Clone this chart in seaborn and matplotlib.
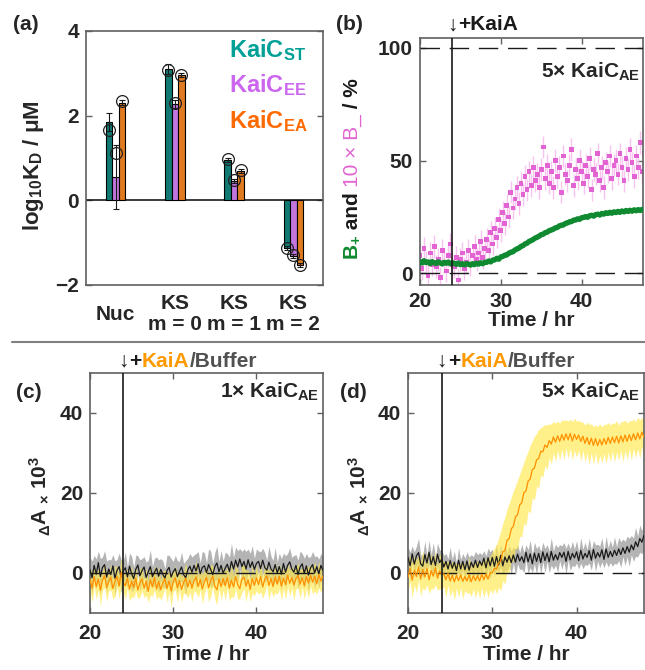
import numpy as np
import pandas as pd
import matplotlib
matplotlib.use("Agg")
import matplotlib.pyplot as plt
import matplotlib.transforms as mtransforms
from matplotlib.lines import Line2D
import seaborn as sns

# ---------------- data ----------------
# panel (a)
groups = ['Nuc', 'KS\nm = 0', 'KS\nm = 1', 'KS\nm = 2']
variants = ['ST', 'EE', 'EA']
bar_st = [1.85, 3.10, 0.95, -1.12]
bar_ee = [0.55, 2.28, 0.46, -1.32]
bar_ea = [2.31, 2.96, 0.70, -1.52]
err_st = [0.22, 0.12, 0.05, 0.05]
err_ee = [0.76, 0.10, 0.05, 0.05]
err_ea = [0.05, 0.05, 0.05, 0.05]
circ_st = [1.66, 3.08, 0.98, -1.13]
circ_ee = [1.12, 2.30, 0.49, -1.30]
circ_ea = [2.34, 2.97, 0.72, -1.52]

# time grid (hr), 0.25 hr sampling
time_hr = np.linspace(20, 48, 113)

# panel (b)  10 x B-  (pink) and B+ (green), %
pink_b = [8, 2, 11, 5, -1, 9, 4, 12, 3, 6, -2, 10, 5, 1, 8, 13, 4,
          3, 7, -3, 6, 9, 2, 5, 10, 4, 8, 12, 6, 9, 14, 7, 11,
          15, 10, 18, 13, 20, 16, 24, 19, 27, 22, 30, 25, 36, 29, 33, 38,
          31, 40, 35, 43, 37, 45, 39, 47, 41, 44, 38, 46, 56, 42, 48, 40,
          45, 38, 50, 43, 47, 36, 52, 44, 41, 48, 55, 39, 46, 42, 50, 45,
          40, 48, 43, 51, 37, 46, 44, 53, 41, 47, 38, 49, 45, 52, 42, 48,
          50, 44, 53, 47, 41, 51, 46, 55, 49, 43, 52, 47, 58, 45, 53, 50]
pink_err = 5.0
green_b = [5.2, 4.6, 5.5, 4.8, 5.0, 4.3, 5.1, 4.7, 4.4, 5.0, 4.6, 4.2, 4.8, 4.5, 4.9, 4.3, 4.6,
           4.4, 4.0, 4.5, 3.9, 4.2, 3.8, 4.3, 4.0, 3.7, 4.2, 3.9, 4.4, 4.1, 4.6, 4.3, 4.8,
           4.9, 5.4, 5.1, 5.8, 6.0, 6.6, 6.3, 7.2, 7.5, 8.0, 8.2, 8.9, 9.3, 9.6, 10.3, 10.8,
           11.2, 11.9, 12.3, 13.0, 13.4, 14.1, 14.5, 15.0, 15.6, 16.0, 16.5, 17.1, 17.4, 18.0, 18.3, 18.9,
           19.2, 19.6, 20.1, 20.4, 21.0, 21.3, 21.5, 22.1, 22.4, 22.8, 23.0, 23.5, 23.7, 24.1, 24.0, 24.6,
           24.8, 25.1, 24.9, 25.5, 25.7, 25.4, 26.0, 26.2, 25.9, 26.5, 26.3, 26.8, 26.6, 27.0, 26.7, 27.2,
           27.0, 27.4, 27.1, 27.6, 27.3, 27.8, 27.5, 27.9, 27.6, 28.1, 27.8, 28.2, 27.9, 28.3, 28.0, 28.4]

# panel (c)  1x KaiC_AE, dA x 10^3
buf_c = [0.8, -1.2, 1.9, -0.3, 2.6, -0.9, 1.4, 2.1, -1.0, 1.0, -0.4, 1.8, -1.3, 0.7, 1.6, -0.8, 0.5,
         1.3, -1.0, 1.7, -0.2, -1.4, 0.9, 2.0, -0.7, 0.6, 1.5, -1.1, 0.3, 1.6, -0.9, 0.2, 1.2,
         -0.8, 0.9, -0.3, -1.3, 0.6, 1.4, -1.0, 0.3, 1.1, -0.9, 0.4, 1.5, -0.4, -1.2, 0.8, 1.7,
         0.2, 1.9, 0.5, 2.3, -0.2, 1.4, 1.8, 0.1, 2.1, 0.9, -0.4, 1.6, 2.5, 0.3, 1.9, 0.0,
         1.2, 2.2, 0.4, 2.9, 1.0, 3.2, 1.5, 3.5, 1.6, 2.9, 1.0, 3.3, 1.4, 2.8, 0.9, 2.4,
         2.9, 1.1, 3.2, 1.4, 0.7, 2.7, 1.0, 0.3, 2.1, 0.0, 1.6, -0.3, 2.4, 0.2, 1.9, 2.8,
         1.0, 0.2, 1.9, -0.4, 1.5, 2.3, -0.1, 1.8, -0.5, 1.3, 2.1, 0.0, 1.6, -0.2, 1.9, 0.6]
kaia_c = [-1.6, -3.8, -0.9, -3.4, -1.5, -4.3, -1.8, -0.7, -3.6, -2.2, -1.0, -3.9, -2.0, -0.9, -3.3, 0.2, -2.4,
          -3.2, -1.3, -4.1, -2.0, -3.6, -1.3, -4.3, -2.4, -1.5, -3.8, -2.1, -4.6, -1.7, -3.5, -1.1, -4.0,
          -2.1, -4.2, -2.5, -1.4, -3.9, -2.0, -4.5, -2.2, -1.2, -3.7, -1.9, -4.1, -2.4, -1.3, -3.5, -1.8,
          -3.8, -2.0, -1.0, -3.4, -1.6, -4.0, -2.2, -1.1, -3.7, -1.9, -0.8, -3.3, -4.2, -1.5, -3.4, -1.4,
          -3.2, -1.1, -3.8, -1.8, -3.5, -0.9, -2.9, -3.9, -1.5, -1.0, -3.3, -1.7, -4.1, -1.4, -3.1, -1.2,
          -2.9, -0.9, -3.5, -1.6, -0.7, -3.1, -1.4, -3.4, -1.0, -2.8, -0.8, -3.3, -1.3, -2.9, -0.5, -2.6,
          -1.1, -3.0, -1.4, -0.6, -2.8, -1.1, -3.2, -0.9, -2.5, -0.6, -2.3, -0.8, -2.7, -0.4, -2.0, -0.7]
buf_c_sd = [3.1, 4.2, 2.5, 3.8, 2.9, 4.5, 2.6, 3.5, 4.0, 2.4, 3.7, 2.8, 4.3, 2.7, 3.4, 4.1, 2.6,
            3.9, 2.5, 3.3, 4.4, 2.8, 3.6, 2.3, 4.0, 3.0, 2.6, 3.8, 2.9, 4.2, 2.5, 3.5, 2.8,
            4.1, 2.7, 3.4, 2.4, 3.9, 3.0, 4.6, 2.6, 3.3, 4.0, 2.5, 3.7, 2.8, 4.3, 2.9, 3.2,
            3.8, 2.6, 4.4, 3.0, 2.7, 4.1, 3.2, 2.5, 3.9, 4.6, 2.8, 3.5, 4.2, 2.6, 3.7, 3.0,
            4.0, 2.7, 3.6, 4.5, 2.9, 3.3, 4.1, 2.6, 3.8, 3.1, 4.4, 2.7, 3.5, 4.0, 2.8, 3.6,
            2.6, 4.2, 3.0, 3.7, 2.5, 4.0, 3.2, 2.8, 4.3, 2.7, 3.4, 3.9, 2.6, 4.1, 3.0, 3.5,
            2.9, 4.2, 2.7, 3.6, 4.0, 2.6, 3.8, 3.1, 4.4, 2.8, 3.3, 4.1, 2.7, 3.7, 3.0, 3.4]
kaia_c_sd = [2.8, 3.6, 2.3, 3.2, 2.7, 3.9, 2.4, 3.0, 3.5, 2.2, 3.3, 2.6, 3.8, 2.5, 3.1, 3.6, 2.4,
             3.4, 2.3, 2.9, 3.9, 2.6, 3.2, 2.1, 3.6, 2.8, 2.4, 3.4, 2.7, 3.8, 2.3, 3.1, 2.6,
             3.7, 2.5, 3.0, 2.2, 3.5, 2.8, 4.1, 2.4, 3.0, 3.6, 2.3, 3.3, 2.6, 3.9, 2.7, 2.9,
             3.4, 2.4, 3.9, 2.8, 2.5, 3.7, 2.9, 2.3, 3.5, 4.0, 2.6, 3.1, 3.8, 2.4, 3.3, 2.8,
             3.6, 2.5, 3.2, 4.0, 2.7, 3.0, 3.7, 2.4, 3.4, 2.9, 3.9, 2.5, 3.1, 3.6, 2.6, 3.2,
             2.4, 3.8, 2.8, 3.3, 2.3, 3.6, 2.9, 2.6, 3.9, 2.5, 3.1, 3.5, 2.4, 3.7, 2.8, 3.2,
             2.7, 3.8, 2.5, 3.2, 3.6, 2.4, 3.4, 2.9, 3.9, 2.6, 3.0, 3.7, 2.5, 3.3, 2.8, 3.1]

# panel (d)  5x KaiC_AE, dA x 10^3
buf_d = [3.9, 1.8, 4.8, 2.2, 4.3, 5.1, 2.3, 1.7, 4.6, 2.5, 5.2, 2.1, 4.1, 1.9, 4.7, 2.6, 3.4,
         1.5, 2.9, 1.0, 3.1, 1.2, 2.7, 0.6, 3.2, 1.0, 2.9, 0.8, 3.0, 0.7, 2.7, 1.4, 3.2,
         1.4, 3.0, 1.9, 3.7, 1.3, 3.8, 1.8, 3.9, 1.7, 4.1, 2.0, 4.4, 1.8, 4.0, 2.7, 4.3,
         2.6, 4.5, 2.7, 4.7, 3.0, 4.1, 2.6, 5.2, 2.8, 4.8, 2.3, 5.0, 2.9, 4.9, 2.6, 5.3,
         3.1, 5.0, 2.8, 5.4, 3.2, 4.6, 3.3, 5.1, 3.9, 5.2, 2.9, 5.4, 3.3, 4.9, 3.8, 5.3,
         3.1, 5.7, 3.5, 4.9, 3.9, 5.6, 3.2, 5.9, 3.7, 5.1, 4.0, 5.8, 3.4, 6.0, 3.9, 5.4,
         4.1, 5.7, 4.4, 6.0, 4.6, 6.3, 4.9, 6.6, 5.2, 7.0, 5.8, 7.8, 6.6, 8.6, 7.7, 9.4]
kaia_d = [-1.1, 1.2, -1.8, 0.7, -0.9, 1.5, -1.5, 0.9, -1.0, 1.1, -1.7, 0.6, -0.8, 1.3, -1.3, 0.5, -0.4,
          -0.2, -1.7, 0.0, -2.0, -0.6, -2.2, -0.6, -1.9, -0.5, -2.1, -0.9, -2.0, -0.4, -2.2, -0.7, -1.9,
          -0.6, -2.0, -0.3, -1.7, -0.2, -1.5, 0.1, 0.0, 1.2, 1.0, 2.6, 3.0, 5.3, 5.6, 8.2, 8.6,
          11.0, 11.7, 14.0, 14.6, 17.0, 17.6, 20.1, 20.5, 23.0, 23.5, 25.9, 26.2, 28.3, 28.6, 30.4, 30.3,
          32.0, 31.4, 33.1, 32.2, 34.0, 32.7, 34.3, 32.9, 34.6, 33.2, 34.8, 33.3, 34.9, 33.0, 34.7, 33.4,
          34.5, 32.9, 34.2, 32.4, 33.9, 32.1, 33.7, 31.9, 33.6, 31.8, 33.4, 32.0, 33.6, 32.2, 33.9, 32.4,
          34.0, 32.6, 34.2, 32.5, 34.3, 32.8, 34.5, 32.9, 34.6, 33.1, 34.8, 33.3, 35.0, 33.5, 35.2, 33.9]
kaia_d_sd = [3.8, 3.2, 4.4, 3.5, 4.1, 3.1, 4.3, 4.6, 3.3, 4.0, 3.4, 4.5, 3.2, 4.2, 3.0, 4.4, 3.6,
             3.2, 4.3, 3.0, 4.1, 3.5, 4.6, 3.1, 4.2, 3.0, 4.4, 3.4, 3.1, 4.5, 3.7, 3.2, 4.3,
             3.6, 4.4, 3.3, 4.6, 3.8, 4.7, 4.2, 5.2, 5.0, 6.2, 6.1, 7.5, 7.2, 8.4, 7.8, 8.8,
             7.9, 8.9, 7.8, 8.7, 7.7, 8.6, 7.6, 8.7, 7.4, 8.5, 7.1, 8.0, 6.6, 7.3, 5.9, 6.4,
             5.1, 5.6, 4.2, 5.0, 3.9, 4.8, 3.6, 4.6, 3.7, 4.9, 3.5, 4.7, 3.6, 4.8, 4.0, 4.5,
             3.7, 4.9, 3.5, 4.6, 3.8, 5.0, 3.6, 4.7, 3.4, 4.8, 3.9, 4.5, 3.6, 4.9, 3.7, 4.6,
             3.5, 4.8, 3.9, 4.4, 3.6, 5.0, 3.8, 4.6, 3.5, 4.9, 3.7, 4.5, 3.9, 4.8, 3.6, 4.7]
buf_d_sd = [2.6, 3.4, 2.0, 3.1, 2.4, 3.6, 2.2, 2.9, 3.3, 1.9, 3.0, 2.5, 3.5, 2.1, 2.8, 3.2, 2.3,
            2.9, 2.0, 2.6, 3.4, 2.2, 2.8, 1.8, 3.1, 2.4, 2.0, 2.9, 2.3, 3.3, 1.9, 2.7, 2.2,
            3.2, 2.1, 2.7, 1.9, 3.0, 2.4, 3.5, 2.0, 2.6, 3.1, 1.9, 2.8, 2.2, 3.3, 2.3, 2.5,
            2.9, 2.0, 3.3, 2.4, 2.1, 3.1, 2.5, 1.9, 3.0, 3.4, 2.2, 2.7, 3.2, 2.0, 2.8, 2.4,
            3.0, 2.1, 2.7, 3.4, 2.3, 2.6, 3.1, 2.0, 2.9, 2.4, 3.3, 2.1, 2.7, 3.0, 2.2, 2.8,
            2.1, 3.2, 2.4, 2.8, 2.0, 3.1, 2.5, 2.2, 3.3, 2.1, 2.7, 3.0, 2.1, 3.2, 2.4, 2.8,
            2.4, 3.3, 2.2, 2.9, 3.2, 2.2, 3.0, 2.6, 3.5, 2.4, 2.9, 3.6, 2.6, 3.4, 2.9, 3.5]

# ---------------- style ----------------
sns.set_theme(style="ticks")
plt.rcParams['font.family'] = ['Liberation Sans', 'DejaVu Sans']
plt.rcParams['font.weight'] = 'bold'
plt.rcParams['axes.labelweight'] = 'bold'
plt.rcParams['mathtext.fontset'] = 'custom'
plt.rcParams['mathtext.rm'] = 'Liberation Sans'
plt.rcParams['mathtext.bf'] = 'Liberation Sans:bold'
plt.rcParams['mathtext.it'] = 'Liberation Sans:italic:bold'
plt.rcParams['mathtext.default'] = 'bf'

SPINE = '#606060'
TEAL, VIOLET, ORANGE = '#008c82', '#c864f0', '#ff7800'
TEAL_T, VIOLET_T, ORANGE_T = '#00a096', '#cc66ee', '#ff6a00'
GREEN, PINK, PINK_ERR = '#0f8a30', '#e264d2', '#f9c3f0'
LINE_OR, BAND_Y, LINE_K, BAND_K = '#ff9000', '#ffe84a', '#1a1a1a', '#8c8c8c'
DASH = (0, (14, 7))

fig = plt.figure(figsize=(6.45, 6.7), dpi=100)
W, H = 645.0, 670.0


def add_ax(l, t, r, b):
    return fig.add_axes([l / W, 1 - b / H, (r - l) / W, (b - t) / H])


def style_ax(ax):
    for s in ax.spines.values():
        s.set_color(SPINE)
        s.set_linewidth(1.2)
    ax.tick_params(direction='in', length=4, width=1, color=SPINE, top=True, right=True,
                   labelsize=15, pad=5)
    for lbl in ax.get_xticklabels() + ax.get_yticklabels():
        lbl.set_fontweight('bold')


renderer = fig.canvas.get_renderer()


def pieces(x, y, transform, parts, rotation=0, fontsize=15, start=0.0):
    off = start
    for s, color, weight in parts:
        if rotation == 0:
            tr = mtransforms.offset_copy(transform, fig=fig, x=off, y=0, units='dots')
        else:
            tr = mtransforms.offset_copy(transform, fig=fig, x=0, y=off, units='dots')
        t = fig.text(x, y, s, transform=tr, color=color, fontweight=weight, fontsize=fontsize,
                     rotation=rotation, rotation_mode='anchor', ha='left', va='baseline')
        bb = t.get_window_extent(renderer=renderer)
        off += bb.width if rotation == 0 else bb.height


def arrow_label(ax, yax, parts):
    tr = mtransforms.blended_transform_factory(ax.transData, ax.transAxes)
    a = fig.text(24, yax, '↓', transform=tr, ha='center', va='baseline', fontsize=15,
                 fontweight='normal', color='k')
    bb = a.get_window_extent(renderer=renderer)
    x0 = tr.transform((24, yax))[0]
    pieces(24, yax, tr, parts, start=bb.x1 - x0 + 1)


# ---------------- panel (a) ----------------
axa = add_ax(86, 31, 323, 285)
df = pd.DataFrame({
    'group': groups * 3,
    'variant': [v for v in variants for _ in groups],
    'value': bar_st + bar_ee + bar_ea,
})
sns.barplot(data=df, x='group', y='value', hue='variant', order=groups, hue_order=variants,
            palette=[TEAL, VIOLET, ORANGE], width=0.33, gap=0, edgecolor='black', linewidth=0.8,
            errorbar=None, legend=False, ax=axa, zorder=2)
bars = [bar_st, bar_ee, bar_ea]
errs = [err_st, err_ee, err_ea]
circs = [circ_st, circ_ee, circ_ea]
bar_conts = list(axa.containers)
for i, cont in enumerate(bar_conts):
    for j, bar in enumerate(cont):
        xc = bar.get_x() + bar.get_width() / 2
        axa.errorbar(xc, bars[i][j], yerr=errs[i][j], color='k', capsize=2.5, elinewidth=0.8,
                     capthick=0.8, zorder=3)
        axa.plot(xc, circs[i][j], 'o', mfc='none', mec='#202020', ms=8.5, mew=0.9, zorder=4)
axa.axhline(0, color='k', lw=1.2, zorder=1)
axa.set_xlim(-0.5, 3.5)
axa.set_ylim(-2, 4)
axa.set_yticks([-2, 0, 2, 4])
axa.set_xlabel('')
axa.set_ylabel(r'log$_{10}$K$_D$ / μM', fontsize=16, fontweight='bold')
axa.yaxis.set_label_coords(-0.17, 0.47)
style_ax(axa)
axa.tick_params(axis='x', length=0, pad=21, labelsize=15)
for lbl in axa.get_xticklabels():
    lbl.set_va('center')
    lbl.set_linespacing(1.15)
for txt, col, yy in [('KaiC$_{ST}$', TEAL_T, 0.899), ('KaiC$_{EE}$', VIOLET_T, 0.761),
                     ('KaiC$_{EA}$', ORANGE_T, 0.617)]:
    axa.text(0.605, yy, txt, color=col, fontsize=17, fontweight='bold', transform=axa.transAxes,
             ha='left', va='baseline')

# ---------------- panel (b) ----------------
axb = add_ax(420, 38, 643, 285)
axb.errorbar(time_hr, pink_b, yerr=pink_err, fmt='none', ecolor=PINK_ERR, elinewidth=1, zorder=1)
sns.scatterplot(x=time_hr, y=pink_b, marker='s', s=12, color=PINK, edgecolor='none', ax=axb,
                zorder=2, legend=False)
sns.scatterplot(x=time_hr, y=green_b, marker='o', s=16, color=GREEN, edgecolor='none', ax=axb,
                zorder=3, legend=False)
axb.axhline(0, color='k', lw=1, ls=DASH, zorder=4)
axb.axhline(100, color='k', lw=1, ls=DASH, zorder=4)
axb.axvline(24, color='k', lw=1.2, zorder=5)
axb.set_xlim(20, 47.6)
axb.set_ylim(-5.2, 104.4)
axb.set_xticks([20, 30, 40])
axb.set_yticks([0, 50, 100])
axb.set_xlabel('Time / hr', fontsize=15, fontweight='bold', labelpad=0)
style_ax(axb)
axb.text(0.987, 0.862, '5× KaiC$_{AE}$', transform=axb.transAxes, ha='right', va='center',
         fontsize=15, fontweight='bold')
pieces(-0.28, 0.10, axb.transAxes,
       [('B$_{+}$', GREEN, 'bold'), (' and ', 'k', 'bold'), ('10 × B_', PINK, 'normal'),
        (' / %', 'k', 'bold')], rotation=90, fontsize=15)
arrow_label(axb, 1.032, [('+KaiA', 'k', 'bold')])

# ---------------- panels (c), (d) ----------------
def ts_panel(ax, buf, buf_sd, kaia, kaia_sd, title):
    buf = np.asarray(buf)
    kaia = np.asarray(kaia)
    ax.fill_between(time_hr, buf - np.asarray(buf_sd), buf + np.asarray(buf_sd), color=BAND_K,
                    alpha=0.65, lw=0, zorder=1)
    ax.fill_between(time_hr, kaia - np.asarray(kaia_sd), kaia + np.asarray(kaia_sd), color=BAND_Y,
                    alpha=0.65, lw=0, zorder=2)
    ax.axhline(0, color='k', lw=1, ls=DASH, zorder=3)
    sns.lineplot(x=time_hr, y=buf, color=LINE_K, lw=0.9, ax=ax, zorder=4, errorbar=None)
    sns.lineplot(x=time_hr, y=kaia, color=LINE_OR, lw=0.9, ax=ax, zorder=5, errorbar=None)
    ax.axvline(24, color='k', lw=1.2, zorder=6)
    ax.set_xlim(20, 48)
    ax.set_ylim(-10, 50)
    ax.set_xticks([20, 30, 40])
    ax.set_yticks([0, 20, 40])
    ax.set_xlabel('Time / hr', fontsize=15, fontweight='bold', labelpad=1)
    ax.set_ylabel(r'$_{\Delta}$A $_{\times}$ 10$^{3}$', fontsize=15, fontweight='bold')
    style_ax(ax)
    ax.tick_params(axis='x', pad=8)
    ax.text(0.982, 0.92, title, transform=ax.transAxes, ha='right', va='center', fontsize=15,
            fontweight='bold')
    arrow_label(ax, 1.026, [('+', 'k', 'bold'), ('KaiA', '#ff9900', 'bold'),
                            ('/Buffer', '#505050', 'bold')])


axc = add_ax(90, 373, 323, 613)
ts_panel(axc, buf_c, buf_c_sd, kaia_c, kaia_c_sd, '1× KaiC$_{AE}$')
axc.yaxis.set_label_coords(-0.16, 0.49)

axd = add_ax(408, 373, 644, 613)
ts_panel(axd, buf_d, buf_d_sd, kaia_d, kaia_d_sd, '5× KaiC$_{AE}$')
axd.yaxis.set_label_coords(-0.152, 0.49)

# ---------------- panel letters & separator ----------------
for lab, x, y in [('(a)', 13, 25), ('(b)', 336, 25), ('(c)', 16, 393), ('(d)', 340, 393)]:
    fig.text(x / W, 1 - y / H, lab, ha='left', va='center', fontsize=15, fontweight='bold')
fig.add_artist(Line2D([12 / W, 1.0], [1 - 342 / H, 1 - 342 / H], color='#808080', lw=1.5,
                      transform=fig.transFigure))

fig.savefig('out.png', dpi=100)
